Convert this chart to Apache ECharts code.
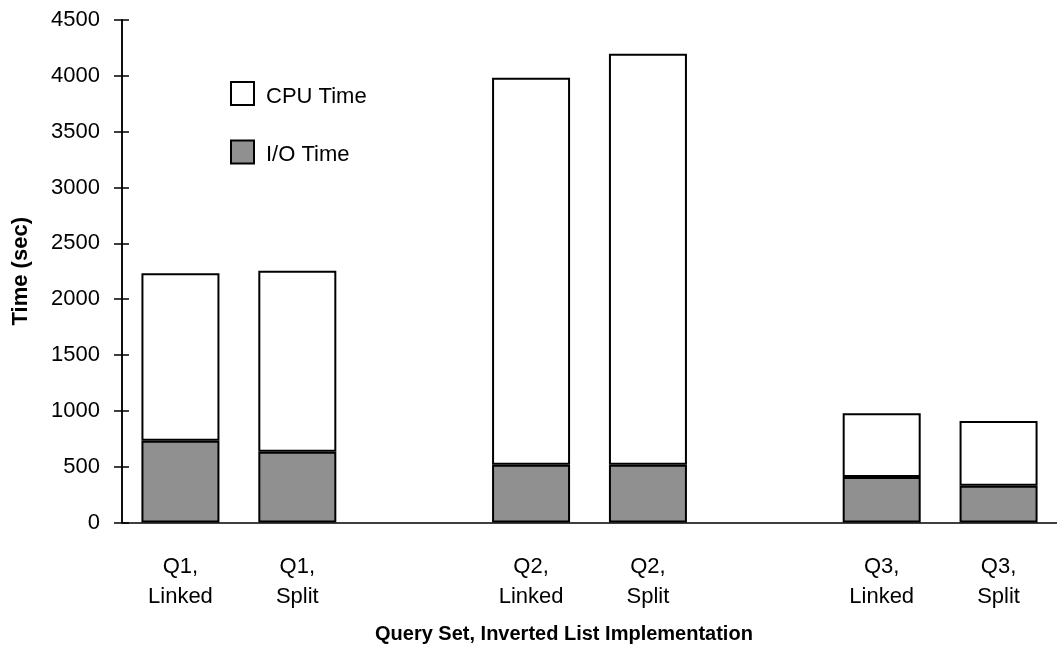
<!DOCTYPE html>
<html>
<head>
<meta charset="utf-8">
<script src="https://cdn.jsdelivr.net/npm/echarts@6/dist/echarts.min.js"></script>
<style>html,body{margin:0;padding:0;background:#fff;}#c{width:1057px;height:651px;}</style>
</head>
<body>
<div id="c"></div>
<script>
const categories = ['Q1,\nLinked', 'Q1,\nSplit', '', 'Q2,\nLinked', 'Q2,\nSplit', '', 'Q3,\nLinked', 'Q3,\nSplit'];
const ioTime = [732, 634, null, 518, 518, null, 407, 330];
const totalTime = [2232, 2255, null, 3983, 4198, null, 978, 909];
const cpuTime = totalTime.map((t, i) => t == null ? null : t - ioTime[i]);
const yTicks = {min: 0, max: 4500, interval: 500};

const font = 'Liberation Sans, Arial, sans-serif';
const chart = echarts.init(document.getElementById('c'), null, {renderer: 'canvas'});
chart.setOption({
  animation: false,
  backgroundColor: '#fff',
  textStyle: {fontFamily: font, color: '#000'},
  grid: {left: 122, top: 20, width: 941, height: 502.5, containLabel: false},
  legend: {
    orient: 'vertical', left: 230, top: 81, padding: 0,
    itemWidth: 23, itemHeight: 23, itemGap: 32,
    icon: 'rect',
    data: ['CPU Time', 'I/O Time'],
    formatter: '{a|{name}}',
    textStyle: {
      fontSize: 22, color: '#000', fontFamily: font,
      rich: {a: {fontSize: 22, color: '#000', fontFamily: font, padding: [6, 0, 0, 7]}}
    }
  },
  xAxis: {
    type: 'category', data: categories,
    axisLine: {lineStyle: {color: '#000', width: 1.5}},
    axisTick: {show: false},
    axisLabel: {fontSize: 22, color: '#000', lineHeight: 30, margin: 29, interval: 0, fontFamily: font}
  },
  yAxis: [{
    type: 'value', min: yTicks.min, max: yTicks.max, interval: yTicks.interval,
    name: 'Time (sec)', nameLocation: 'middle', nameGap: 90,
    nameTextStyle: {fontSize: 22, fontWeight: 'bold', color: '#000', fontFamily: font},
    axisLine: {show: true, lineStyle: {color: '#000', width: 1.5}},
    axisTick: {show: true, length: 8, lineStyle: {color: '#000', width: 1.5}},
    axisLabel: {fontSize: 22, color: '#000', margin: 22, fontFamily: font, formatter: v => String(v)},
    splitLine: {show: false}
  }, {
    type: 'value', position: 'left', offset: 0, min: yTicks.min, max: yTicks.max, interval: yTicks.interval,
    axisLine: {show: true, lineStyle: {color: '#000', width: 1.5}},
    axisTick: {show: true, inside: true, length: 7, lineStyle: {color: '#000', width: 1.5}},
    axisLabel: {show: false},
    splitLine: {show: false}
  }],
  graphic: [{
    type: 'text', left: 375, top: 624,
    style: {text: 'Query Set, Inverted List Implementation', font: 'bold 20px ' + font, fill: '#000'}
  }],
  series: [{
    name: 'I/O Time', type: 'bar', stack: 'total', data: ioTime, barWidth: 78,
    itemStyle: {color: '#909090', borderColor: '#000', borderWidth: 2}
  }, {
    name: 'CPU Time', type: 'bar', stack: 'total', data: cpuTime, barWidth: 78,
    itemStyle: {color: '#fff', borderColor: '#000', borderWidth: 2}
  }]
});
</script>
</body>
</html>
